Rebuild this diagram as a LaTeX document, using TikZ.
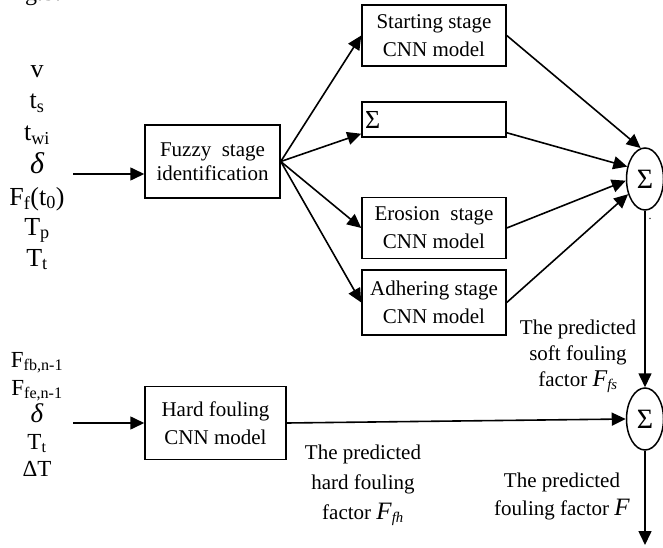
\documentclass[tikz,border=0pt]{standalone}
\usepackage{fontspec}
\setmainfont{Liberation Serif}
\usetikzlibrary{arrows.meta,shapes.geometric}

\begin{document}
\begin{tikzpicture}[x=1pt,y=-1pt,
        font=\fontsize{21}{28}\selectfont,
        block/.style={draw, line width=1.5pt, minimum width=144pt, minimum height=61pt, inner sep=2pt, align=center},
        summer/.style={ellipse, draw, line width=1.5pt, minimum width=37pt, minimum height=62pt, inner sep=0pt,
            font=\fontsize{28}{28}\selectfont},
        flow/.style={-{Triangle[length=14pt,width=13pt]}, line width=1.6pt},
        invar/.style={anchor=base, inner sep=0pt},
        note/.style={align=center, inner sep=0pt}]
        \useasboundingbox (0,0) rectangle (663,548);
        \clip (0,0) rectangle (663,548);
        % Column of the input variables
        \newcommand{\inputx}{37}
        % Caption left over at the top
        \node[anchor=base west, inner sep=0pt, font=\fontsize{24}{24}\selectfont] (figcap) at (5,0.5) {Fig.5.};
        % Inputs of the soft fouling part
        \foreach \txt/\yy [count=\i] in {v/78, t\textsubscript{s}/109, t\textsubscript{wi}/141,
            {\fontsize{30}{30}\selectfont\itshape δ}/173, F\textsubscript{f}(t\textsubscript{0})/205,
            T\textsubscript{p}/235, T\textsubscript{t}/266} {
            \node[invar, font=\fontsize{26}{28}\selectfont] (Input-\i) at (\inputx,\yy) {\txt};
        }
        % Inputs of the hard fouling part
        \foreach \txt/\yy [count=\i] in {{F\textsubscript{fb,n-1}}/367, {F\textsubscript{fe,n-1}}/395,
            {\fontsize{27}{27}\selectfont\itshape δ}/422, T\textsubscript{t}/449, ΔT/476} {
            \node[invar, font=\fontsize{23}{26}\selectfont] (Hard-\i) at (\inputx,\yy) {\txt};
        }
        % Stage identification
        \node[block, minimum width=135pt, minimum height=73pt, font=\fontsize{21}{24}\selectfont]
            (Fuzzy) at (212.5,161.5) {Fuzzy\ \ stage\\identification};
        % Stage models
        \node[block] (Starting) at (434,35.5) {Starting stage\\CNN model};
        \node[block, minimum height=35pt, text width=138pt, align=left, font=\fontsize{26}{26}\selectfont]
            (Sumbox) at (434,119.5) {Σ};
        \node[block] (Erosion) at (434,228) {Erosion\ \ stage\\CNN model};
        \node[block, minimum height=65pt] (Adhering) at (434,302.5) {Adhering stage\\CNN model};
        % Hard fouling model
        \node[block, minimum width=141pt, minimum height=73pt] (Hard) at (215.5,423) {Hard fouling\\CNN model};
        % Summation points
        \node[summer] (Sum-1) at (645,179) {Σ};
        \node[summer] (Sum-2) at (645,419) {Σ};
        \node[inner sep=0pt, font=\fontsize{12}{12}\selectfont] (dot) at (650,219) {.};
        % Input arrows
        \coordinate (In-1) at (73,174);
        \coordinate (In-2) at (73,423);
        \draw[flow] (In-1) -- (In-1 -| Fuzzy.west);
        \draw[flow] (In-2) -- (Hard.west);
        % Fuzzy stage to the stage models
        \draw[flow] (Fuzzy.east) -- (Starting.west);
        \draw[flow] (Fuzzy.east) -- ([yshift=4pt]Sumbox.south west);
        \draw[flow] (Fuzzy.east) -- (Erosion.west);
        \draw[flow] (Fuzzy.east) -- (Adhering.west);
        % Stage models to the first sum
        \draw[flow] (Starting.east) -- (Sum-1.98);
        \draw[flow] (Sumbox.south east) ++(0,5pt) coordinate (Sumbox-out) -- (Sum-1.145);
        \draw[flow] (Erosion.east) -- (Sum-1.185);
        \draw[flow] (Adhering.east) -- (Sum-1.222);
        % Sums and output
        \coordinate (Out) at (645,545);
        \draw[flow] (Sum-1.south) -- (Sum-2.north);
        \draw[flow] (Hard.east) -- (Sum-2.west);
        \draw[flow] (Sum-2.south) -- (Out);
        % Predicted factors
        \node[note, font=\fontsize{21}{26}\selectfont] (Soft-note) at (578,356)
            {The predicted\\soft fouling\\factor {\fontsize{24}{26}\selectfont\textit{F}}\textsubscript{\textit{fs}}};
        \node[note, font=\fontsize{21}{30}\selectfont] (Hard-note) at (363,485)
            {The predicted\\hard fouling\\factor {\fontsize{25}{30}\selectfont\textit{F}}\textsubscript{\textit{fh}}};
        \node[note] (Final-note) at (562,496)
            {The predicted\\fouling factor {\fontsize{25}{28}\selectfont\textit{F}}};
    \end{tikzpicture}
\end{document}
